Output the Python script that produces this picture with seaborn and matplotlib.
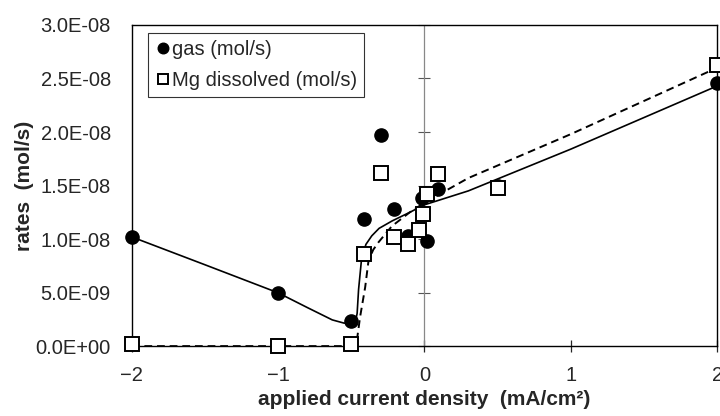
import matplotlib
matplotlib.use("Agg")
import matplotlib.pyplot as plt
from matplotlib.ticker import FuncFormatter
import seaborn as sns
import pandas as pd

sns.set_theme(style="white")
plt.rcParams["font.family"] = ["Liberation Sans", "DejaVu Sans"]

# measured points
gas_x = [-2.0, -1.0, -0.5, -0.41, -0.30, -0.205, -0.11, 0.02, -0.02, 0.095, 0.5, 2.0]
gas_y = [1.02e-8, 4.98e-9, 2.37e-9, 1.19e-8, 1.97e-8, 1.28e-8, 1.03e-8, 9.85e-9, 1.38e-8, 1.47e-8, 1.50e-8, 2.46e-8]

mg_x = [-2.0, -1.0, -0.5, -0.41, -0.30, -0.205, -0.11, -0.04, -0.007, 0.02, 0.095, 0.5, 2.0]
mg_y = [2e-10, 0.0, 2e-10, 8.6e-9, 1.62e-8, 1.02e-8, 9.5e-9, 1.08e-8, 1.23e-8, 1.42e-8, 1.61e-8, 1.48e-8, 2.63e-8]

# fitted curves
gas_fit_x = [-2.0, -1.5, -1.0, -0.8, -0.63, -0.55, -0.5, -0.47, -0.46, -0.45, -0.43, -0.40, -0.36, -0.31, -0.22, -0.1, 0.0, 0.3, 1.0, 2.0]
gas_fit_y = [1.02e-8, 7.6e-9, 4.98e-9, 3.6e-9, 2.45e-9, 2.15e-9, 2.1e-9, 2.4e-9, 3.05e-9, 5.3e-9, 8.1e-9, 9.5e-9, 1.03e-8, 1.1e-8, 1.17e-8, 1.25e-8, 1.32e-8, 1.45e-8, 1.84e-8, 2.43e-8]

mg_fit_x = [-2.0, -1.0, -0.5, -0.462, -0.44, -0.405, -0.382, -0.35, -0.314, -0.223, -0.1, 0.0, 0.3, 1.0, 2.0]
mg_fit_y = [0.0, 0.0, 0.0, 5e-10, 2.7e-9, 5.5e-9, 8.0e-9, 9.0e-9, 9.7e-9, 1.12e-8, 1.25e-8, 1.34e-8, 1.57e-8, 1.98e-8, 2.6e-8]

y_ticks = [0, 5e-9, 1e-8, 1.5e-8, 2e-8, 2.5e-8, 3e-8]
x_ticks = [-2, -1, 0, 1, 2]

gas = pd.DataFrame({"x": gas_x, "y": gas_y})
mg = pd.DataFrame({"x": mg_x, "y": mg_y})
gas_fit = pd.DataFrame({"x": gas_fit_x, "y": gas_fit_y})
mg_fit = pd.DataFrame({"x": mg_fit_x, "y": mg_fit_y})

fig = plt.figure(figsize=(7.2, 4.16), dpi=100)
ax = fig.add_axes([0.183, 0.168, 0.813, 0.772])

ax.axvline(0, color="#888888", lw=0.9, zorder=1)

sns.lineplot(data=gas_fit, x="x", y="y", ax=ax, color="black", lw=1.2,
             sort=False, estimator=None, zorder=2)
sns.lineplot(data=mg_fit, x="x", y="y", ax=ax, color="black", lw=1.4,
             sort=False, estimator=None, linestyle=(0, (4, 2.5)), zorder=2)

ax.plot(gas["x"], gas["y"], "o", color="black", ms=9.5, zorder=3,
        label="gas (mol/s)", clip_on=False)
ax.plot(mg["x"], mg["y"], "s", mfc="white", mec="black", mew=1.4, ms=9.5,
        zorder=4, label="Mg dissolved (mol/s)", clip_on=False)

ax.set_xlim(-2, 2)
ax.set_ylim(0, 3e-8)
ax.set_xticks(x_ticks)
ax.set_yticks(y_ticks)
ax.yaxis.set_major_formatter(FuncFormatter(lambda v, p: f"{v:.1E}"))
ax.tick_params(axis="y", length=0, pad=15, labelsize=14.5)
ax.tick_params(axis="x", direction="inout", length=8, width=0.9, pad=10,
               labelsize=14.5, bottom=True)

for s in ax.spines.values():
    s.set_color("black")
    s.set_linewidth(1.0)

# y axis crossing at x = 0 with tick marks
sec = ax.secondary_yaxis(0.5)
sec.set_yticks(y_ticks)
sec.set_yticklabels([])
sec.tick_params(direction="inout", length=9, width=0.8, colors="#555555")
sec.spines["right"].set_visible(False)
sec.spines["left"].set_visible(False)

ax.set_xlabel("applied current density  (mA/cm²)", fontsize=15,
              fontweight="bold", labelpad=4)
ax.set_ylabel("rates  (mol/s)", fontsize=15, fontweight="bold", labelpad=1)

leg = ax.legend(loc="upper left", bbox_to_anchor=(0.027, 0.975), fontsize=14.5,
                frameon=True, fancybox=False, edgecolor="black",
                handletextpad=0.05, handlelength=0.8, borderpad=0.35,
                labelspacing=0.6, borderaxespad=0, markerscale=0.8)
leg.get_frame().set_linewidth(0.8)

fig.savefig("out.png", dpi=100)
